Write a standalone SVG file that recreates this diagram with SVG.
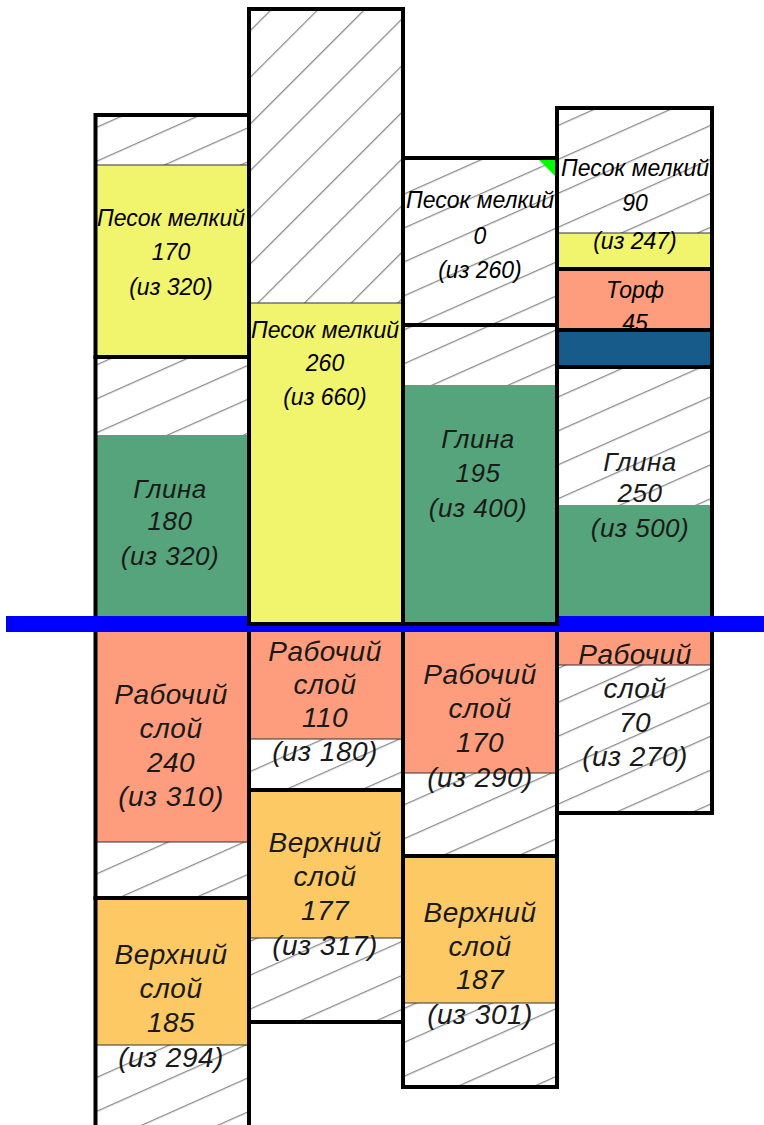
<svg xmlns="http://www.w3.org/2000/svg" width="764" height="1125" viewBox="0 0 764 1125">
<defs>
<pattern id="hs" patternUnits="userSpaceOnUse" width="60" height="31" patternTransform="rotate(-24)">
<rect width="60" height="31" fill="#fff"/>
<line x1="0" y1="0.6" x2="60" y2="0.6" stroke="#8a8a8a" stroke-width="1.1"/>
</pattern>
<pattern id="hd" patternUnits="userSpaceOnUse" width="60" height="33" patternTransform="rotate(-45)">
<rect width="60" height="33" fill="#fff"/>
<line x1="0" y1="0.6" x2="60" y2="0.6" stroke="#8a8a8a" stroke-width="1.1"/>
</pattern>
</defs>
<style>
.h{fill:url(#hs)}
.hd{fill:url(#hd)}
.y{fill:#F1F46D}
.g{fill:#55A47B}
.s{fill:#FE9D7D}
.o{fill:#FCC965}
.db{fill:#175B8A}
.f{fill:none;stroke:#000;stroke-width:4}
.sep{stroke:#333;stroke-width:1}
text{font-family:"Liberation Sans",Arial,sans-serif;font-style:italic;text-anchor:middle;fill:#1a1a1a}
.t1{font-size:23px;fill:#000}
.t2{font-size:26px;letter-spacing:0.5px}
.t3{font-size:28px;letter-spacing:0.5px}
</style>

<g id="col1-top">
<rect class="h" x="95.5" y="115" width="153.5" height="50"/>
<rect class="y" x="95.5" y="165" width="153.5" height="192"/>
<line class="sep" x1="95.5" y1="165" x2="249" y2="165"/>
<text class="t1" x="171" y="226">Песок мелкий</text>
<text class="t1" x="171" y="260">170</text>
<text class="t1" x="171" y="295">(из 320)</text>
<rect class="f" x="95.5" y="115" width="153.5" height="242"/>
</g>

<g id="col1-clay">
<rect class="h" x="95.5" y="357" width="153.5" height="78"/>
<rect class="g" x="95.5" y="435" width="153.5" height="189"/>
<text class="t2" x="170" y="498">Глина</text>
<text class="t2" x="170" y="530">180</text>
<text class="t2" x="170" y="565">(из 320)</text>
<rect class="f" x="95.5" y="357" width="153.5" height="267"/>
</g>

<g id="col4-sand">
<rect class="h" x="557" y="108" width="155" height="125"/>
<rect class="y" x="557" y="233" width="155" height="36"/>
<line class="sep" x1="557" y1="233" x2="712" y2="233"/>
<text class="t1" x="635" y="176">Песок мелкий</text>
<text class="t1" x="635" y="211">90</text>
<text class="t1" x="635" y="249">(из 247)</text>
<rect class="f" x="557" y="108" width="155" height="161"/>
</g>

<g id="col4-peat">
<rect class="s" x="557" y="269" width="155" height="61"/>
<text class="t1" x="635" y="298">Торф</text>
<text class="t1" x="635" y="331">45</text>
<rect class="f" x="557" y="269" width="155" height="61"/>
</g>

<g id="col4-water">
<rect class="db" x="557" y="330" width="155" height="37"/>
<rect class="f" x="557" y="330" width="155" height="37"/>
</g>

<g id="col4-clay">
<rect class="h" x="557" y="367" width="155" height="138"/>
<rect class="g" x="557" y="505" width="155" height="119"/>
<text class="t2" x="640" y="471">Глина</text>
<text class="t2" x="640" y="502">250</text>
<text class="t2" x="640" y="537">(из 500)</text>
<rect class="f" x="557" y="367" width="155" height="257"/>
</g>

<g id="col1-work">
<rect class="s" x="95.5" y="626" width="153.5" height="216"/>
<rect class="h" x="95.5" y="842" width="153.5" height="56"/>
<line class="sep" x1="95.5" y1="842" x2="249" y2="842"/>
<text class="t3" x="171" y="704">Рабочий</text>
<text class="t3" x="171" y="738">слой</text>
<text class="t3" x="171" y="772">240</text>
<text class="t3" x="171" y="806">(из 310)</text>
<rect class="f" x="95.5" y="626" width="153.5" height="272"/>
</g>

<g id="col1-upper">
<rect class="o" x="95.5" y="898" width="153.5" height="147"/>
<rect class="h" x="95.5" y="1045" width="153.5" height="83"/>
<line class="sep" x1="95.5" y1="1045" x2="249" y2="1045"/>
<text class="t3" x="171" y="964">Верхний</text>
<text class="t3" x="171" y="998">слой</text>
<text class="t3" x="171" y="1032">185</text>
<text class="t3" x="171" y="1067">(из 294)</text>
<rect class="f" x="95.5" y="898" width="153.5" height="230"/>
</g>

<g id="col2-work">
<rect class="s" x="249" y="626" width="154" height="113"/>
<rect class="h" x="249" y="739" width="154" height="51"/>
<line class="sep" x1="249" y1="739" x2="403" y2="739"/>
<text class="t3" x="325" y="661">Рабочий</text>
<text class="t3" x="325" y="694">слой</text>
<text class="t3" x="325" y="727">110</text>
<text class="t3" x="325" y="761">(из 180)</text>
<rect class="f" x="249" y="626" width="154" height="164"/>
</g>

<g id="col2-upper">
<rect class="o" x="249" y="790" width="154" height="148"/>
<rect class="h" x="249" y="938" width="154" height="84"/>
<line class="sep" x1="249" y1="938" x2="403" y2="938"/>
<text class="t3" x="325" y="852">Верхний</text>
<text class="t3" x="325" y="886">слой</text>
<text class="t3" x="325" y="920">177</text>
<text class="t3" x="325" y="955">(из 317)</text>
<rect class="f" x="249" y="790" width="154" height="232"/>
</g>

<g id="col3-work">
<rect class="s" x="403" y="626" width="154" height="147"/>
<rect class="h" x="403" y="773" width="154" height="83"/>
<line class="sep" x1="403" y1="773" x2="557" y2="773"/>
<text class="t3" x="480" y="684">Рабочий</text>
<text class="t3" x="480" y="718">слой</text>
<text class="t3" x="480" y="752">170</text>
<text class="t3" x="480" y="787">(из 290)</text>
<rect class="f" x="403" y="626" width="154" height="230"/>
</g>

<g id="col3-upper">
<rect class="o" x="403" y="856" width="154" height="147"/>
<rect class="h" x="403" y="1003" width="154" height="84"/>
<line class="sep" x1="403" y1="1003" x2="557" y2="1003"/>
<text class="t3" x="480" y="922">Верхний</text>
<text class="t3" x="480" y="956">слой</text>
<text class="t3" x="480" y="989">187</text>
<text class="t3" x="480" y="1024">(из 301)</text>
<rect class="f" x="403" y="856" width="154" height="231"/>
</g>

<g id="col4-work">
<rect class="s" x="557" y="626" width="155" height="39"/>
<rect class="h" x="557" y="665" width="155" height="148"/>
<line class="sep" x1="557" y1="665" x2="712" y2="665"/>
<text class="t3" x="635" y="664">Рабочий</text>
<text class="t3" x="635" y="698">слой</text>
<text class="t3" x="635" y="732">70</text>
<text class="t3" x="635" y="766">(из 270)</text>
<rect class="f" x="557" y="626" width="155" height="187"/>
</g>

<g id="connectors">
<rect x="6" y="616" width="758" height="16" fill="#0000FF"/>
</g>

<g id="col2-sand">
<rect class="hd" x="249" y="9" width="154" height="294"/>
<rect class="y" x="249" y="303" width="154" height="321"/>
<line class="sep" x1="249" y1="303" x2="403" y2="303"/>
<text class="t1" x="325" y="338">Песок мелкий</text>
<text class="t1" x="325" y="371">260</text>
<text class="t1" x="325" y="405">(из 660)</text>
<rect class="f" x="249" y="9" width="154" height="615"/>
</g>

<g id="col3-sand">
<rect class="h" x="403" y="158" width="154" height="167"/>
<polygon points="537,158 557,158 557,178" fill="#00FF00"/>
<text class="t1" x="480" y="208">Песок мелкий</text>
<text class="t1" x="480" y="244">0</text>
<text class="t1" x="480" y="278">(из 260)</text>
<rect class="f" x="403" y="158" width="154" height="167"/>
</g>

<g id="col3-clay">
<rect class="h" x="403" y="325" width="154" height="60"/>
<rect class="g" x="403" y="385" width="154" height="239"/>
<text class="t2" x="478" y="448">Глина</text>
<text class="t2" x="478" y="482">195</text>
<text class="t2" x="478" y="517">(из 400)</text>
<rect class="f" x="403" y="325" width="154" height="299"/>
</g>
</svg>
